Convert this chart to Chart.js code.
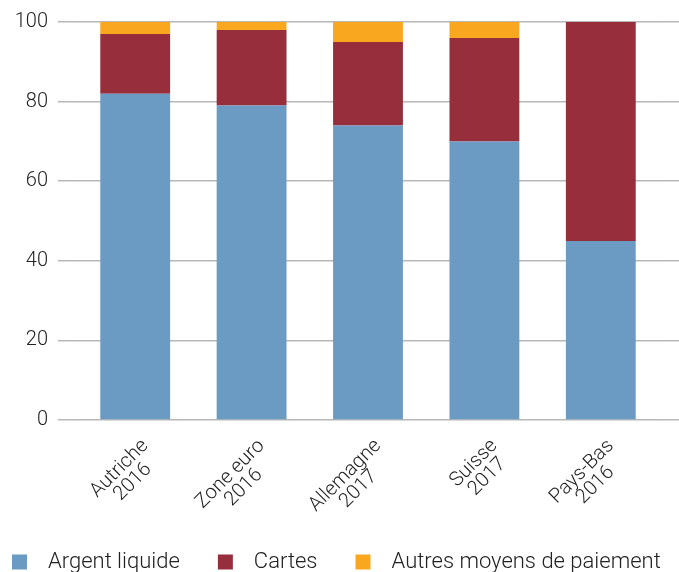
<!DOCTYPE html>
<html>
<head>
<meta charset="utf-8">
<script src="https://cdn.jsdelivr.net/npm/chart.js@4/dist/chart.umd.min.js"></script>
<style>
  html, body { margin: 0; padding: 0; background: #fff; }
  #wrap { width: 679px; height: 572px; }
</style>
</head>
<body>
<div id="wrap"><canvas id="chart" width="679" height="572"></canvas></div>
<script>
const categories = [
  ['Autriche', '2016'],
  ['Zone euro', '2016'],
  ['Allemagne', '2017'],
  ['Suisse', '2017'],
  ['Pays-Bas', '2016']
];
const cash = [82, 79, 74, 70, 45];
const cards = [15, 19, 21, 26, 55];
const other = [3, 2, 5, 4, 0];
const yTicks = [0, 20, 40, 60, 80, 100];

const colors = ['#6b9ac2', '#962e3c', '#f9a71e'];
const gridColor = '#b8b8b8';
const textColor = '#222';
const family = 'Roboto, "Liberation Sans", sans-serif';
const tickFont = { family, size: 20, weight: 300 };

// grid lines run on past the right edge of the bars
const extendGrid = {
  id: 'extendGrid',
  afterDraw(chart) {
    const { ctx, chartArea, scales } = chart;
    ctx.save();
    ctx.strokeStyle = gridColor;
    ctx.lineWidth = 1.5;
    yTicks.forEach(v => {
      const y = Math.round(scales.y.getPixelForValue(v) - 0.75) + 0.75;
      ctx.beginPath();
      ctx.moveTo(chartArea.right, y);
      ctx.lineTo(chart.width, y);
      ctx.stroke();
    });
    ctx.restore();
  }
};

// rotated two-line category labels, lines centred on each other
const xLabels = {
  id: 'xLabels',
  afterDraw(chart) {
    const { ctx, chartArea, scales } = chart;
    ctx.save();
    ctx.font = `${tickFont.weight} ${tickFont.size}px ${family}`;
    ctx.fillStyle = textColor;
    ctx.textAlign = 'center';
    ctx.textBaseline = 'middle';
    categories.forEach((lines, i) => {
      const x = scales.x.getPixelForValue(i);
      const w = Math.max(...lines.map(t => ctx.measureText(t).width));
      ctx.save();
      ctx.translate(x + 10, chartArea.bottom + 23);
      ctx.rotate(-Math.PI / 4);
      lines.forEach((t, k) => ctx.fillText(t, -w / 2, k * 19));
      ctx.restore();
    });
    ctx.restore();
  }
};

// one-row legend along the bottom edge
const bottomLegend = {
  id: 'bottomLegend',
  afterDraw(chart) {
    const { ctx } = chart;
    ctx.save();
    ctx.font = `300 22px ${family}`;
    ctx.textBaseline = 'middle';
    let x = 12;
    const y = 562;
    chart.data.datasets.forEach(ds => {
      ctx.fillStyle = ds.backgroundColor;
      ctx.fillRect(x, y - 7.5, 15, 15);
      ctx.fillStyle = textColor;
      ctx.fillText(ds.label, x + 36, y);
      x += 36 + ctx.measureText(ds.label).width + 38;
    });
    ctx.restore();
  }
};

new Chart(document.getElementById('chart'), {
  type: 'bar',
  data: {
    labels: categories,
    datasets: [
      { label: 'Argent liquide', data: cash, backgroundColor: colors[0] },
      { label: 'Cartes', data: cards, backgroundColor: colors[1] },
      { label: 'Autres moyens de paiement', data: other, backgroundColor: colors[2] }
    ]
  },
  options: {
    responsive: false,
    animation: false,
    layout: { padding: { top: 22, right: 20, left: 0, bottom: 0 } },
    datasets: { bar: { categoryPercentage: 1, barPercentage: 0.6 } },
    scales: {
      x: {
        stacked: true,
        grid: { display: false },
        border: { display: false },
        ticks: { display: false },
        afterFit(s) { s.height = 152; }
      },
      y: {
        stacked: true,
        min: 0,
        max: 100,
        afterBuildTicks(s) { s.ticks = yTicks.map(v => ({ value: v })); },
        grid: { color: gridColor, lineWidth: 1.5, tickLength: 19, tickColor: gridColor },
        border: { display: false },
        ticks: { color: textColor, font: tickFont, padding: 10 },
        afterFit(s) { s.width = 77; }
      }
    },
    plugins: {
      legend: { display: false },
      tooltip: { enabled: false }
    }
  },
  plugins: [extendGrid, xLabels, bottomLegend]
});
</script>
</body>
</html>
